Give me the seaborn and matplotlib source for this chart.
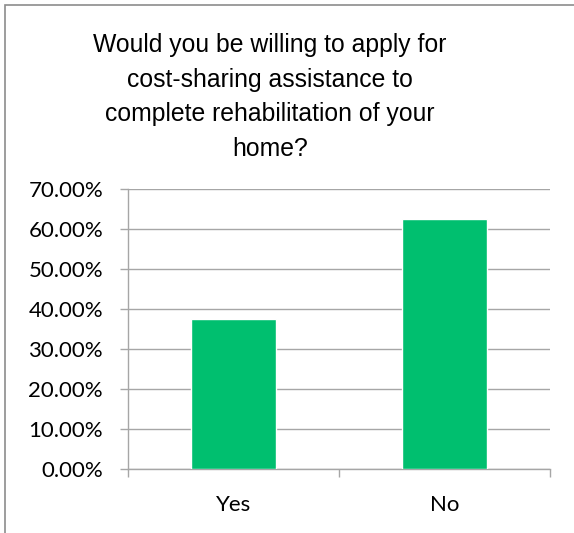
import matplotlib
matplotlib.use("Agg")
import matplotlib.pyplot as plt
from matplotlib.patches import Rectangle
from matplotlib.ticker import FixedLocator, PercentFormatter
import seaborn as sns
import pandas as pd

# Survey responses
answers = ["Yes", "No"]
shares = [37.5, 62.5]
title_text = ("Would you be willing to apply for\ncost-sharing assistance to\n"
              "complete rehabilitation of your\nhome?")

sns.set_style("white")
plt.rcParams["font.family"] = ["Lato", "DejaVu Sans"]

df = pd.DataFrame({"answer": answers, "share": shares})

fig = plt.figure(figsize=(5.74, 5.33), dpi=100)
ax = fig.add_axes([128 / 574, 1 - 469 / 533, 422 / 574, 280 / 533])

sns.barplot(data=df, x="answer", y="share", color="#00BF6F", width=0.4,
            saturation=1, ax=ax, zorder=3)

ax.set_xlim(-0.5, 1.5)
ax.set_ylim(0, 70)
ax.set_yticks(range(0, 71, 10))
ax.yaxis.set_major_formatter(PercentFormatter(decimals=2))
ax.set_xlabel("")
ax.set_ylabel("")

grid_col = "#A6A6A6"
ax.grid(axis="y", color=grid_col, linewidth=1, zorder=0)
for side in ["top", "right"]:
    ax.spines[side].set_visible(False)
for side in ["left", "bottom"]:
    ax.spines[side].set_color(grid_col)
    ax.spines[side].set_linewidth(1)

ax.tick_params(axis="y", which="major", left=True, length=6, width=1,
               color=grid_col, labelsize=16, pad=12, labelcolor="black")
ax.tick_params(axis="x", which="major", bottom=False, labelsize=16, pad=15,
               labelcolor="black")
ax.xaxis.set_minor_locator(FixedLocator([-0.5, 0.5, 1.5]))
ax.tick_params(axis="x", which="minor", bottom=True, length=6, width=1,
               color=grid_col)

fig.text(270 / 574, 1 - 97 / 533, title_text, ha="center", va="center",
         fontsize=17.8, family=["Liberation Sans", "DejaVu Sans"],
         linespacing=1.55, color="black")

# outer chart frame
fig.patches.append(Rectangle((5 / 574, -0.1), 1.2, 1 - 5 / 533 + 0.1,
                             transform=fig.transFigure, fill=False,
                             edgecolor="#8C8C8C", linewidth=1.2))

fig.savefig("out.png", dpi=100)
